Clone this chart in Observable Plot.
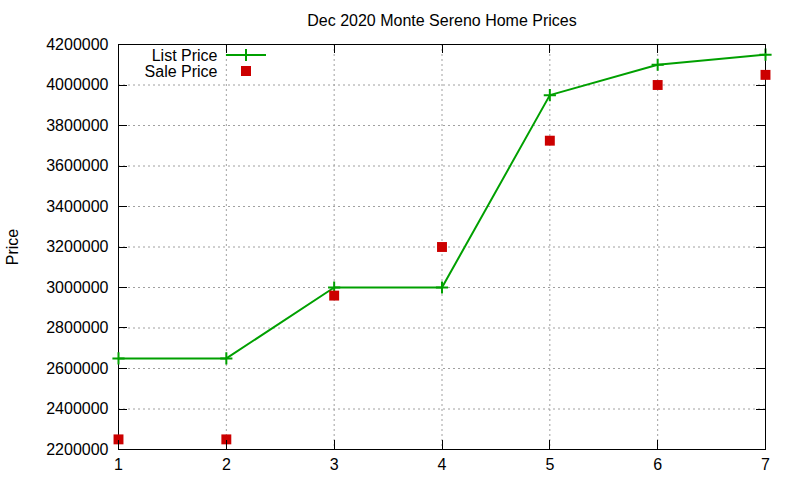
<!DOCTYPE html>
<html>
<head>
<meta charset="utf-8">
<script src="https://cdn.jsdelivr.net/npm/d3@7"></script>
<script src="https://cdn.jsdelivr.net/npm/@observablehq/plot@0.6"></script>
<style>
  html, body { margin: 0; padding: 0; background: #fff; }
  svg { display: block; }
</style>
</head>
<body>
<div id="chart"></div>
<script>
const title = "Dec 2020 Monte Sereno Home Prices";
const yLabel = "Price";
const months = [1, 2, 3, 4, 5, 6, 7];
const listPrice = [2650000, 2650000, 3000000, 3000000, 3950000, 4100000, 4150000];
const salePrice = [2250000, 2250000, 2960000, 3200000, 3725000, 4000000, 4050000];
const yTicks = [2200000, 2400000, 2600000, 2800000, 3000000, 3200000, 3400000, 3600000, 3800000, 4000000, 4200000];
const xTicks = [1, 2, 3, 4, 5, 6, 7];
const seriesNames = ["List Price", "Sale Price"];

const listData = months.map((m, i) => ({x: m, y: listPrice[i]}));
const saleData = months.map((m, i) => ({x: m, y: salePrice[i]}));

const green = "#00a000";
const red = "#cc0000";
const gridStyle = {stroke: "#a0a0a0", strokeOpacity: 1, strokeDasharray: "2,3", strokeWidth: 1};

const plot = Plot.plot({
  width: 800,
  height: 480,
  marginLeft: 118,
  marginRight: 35,
  marginTop: 44,
  marginBottom: 31,
  style: {fontFamily: "'Liberation Sans', Arial, sans-serif", fontSize: "16px", color: "#000", background: "#fff"},
  x: {domain: [1, 7]},
  y: {domain: [2200000, 4200000]},
  marks: [
    Plot.gridX(xTicks, gridStyle),
    Plot.gridY(yTicks, gridStyle),
    Plot.axisY({anchor: "left", ticks: yTicks, tickSize: 0, tickPadding: 10, tickFormat: d3.format("d"), fontSize: 16,
      label: yLabel, labelAnchor: "center", labelArrow: "none", labelOffset: 112}),
    Plot.axisX({anchor: "bottom", ticks: xTicks, tickSize: 0, tickPadding: 9, tickFormat: d3.format("d"), fontSize: 16, label: null}),
    Plot.frame({stroke: "#000", strokeWidth: 1}),
    Plot.line(listData, {x: "x", y: "y", stroke: green, strokeWidth: 2}),
    Plot.dot(listData, {x: "x", y: "y", symbol: "plus", stroke: green, strokeWidth: 2, r: 4}),
    Plot.dot(saleData, {x: "x", y: "y", symbol: "square", fill: red, stroke: "none", r: 5.6}),
    Plot.text([title], {frameAnchor: "top", dy: -24, lineAnchor: "middle", fontSize: 16, fill: "#000"}),
    Plot.text([seriesNames[0]], {frameAnchor: "top-left", dx: 99, dy: 11, textAnchor: "end", lineAnchor: "middle", fontSize: 16, fill: "#000"}),
    Plot.text([seriesNames[1]], {frameAnchor: "top-left", dx: 99, dy: 27, textAnchor: "end", lineAnchor: "middle", fontSize: 16, fill: "#000"})
  ]
});

const svg = d3.select(plot);
const xs = plot.scale("x"), ys = plot.scale("y");
const L = 118, R = 765, T = 44, B = 449, tk = 9;
// inward mirrored ticks
const tg = svg.append("g").attr("stroke", "#000").attr("stroke-width", 1);
yTicks.forEach(v => {
  const y = Math.round(ys.apply(v)) + 0.5;
  tg.append("line").attr("x1", L).attr("x2", L + tk).attr("y1", y).attr("y2", y);
  tg.append("line").attr("x1", R - tk).attr("x2", R).attr("y1", y).attr("y2", y);
});
xTicks.forEach(v => {
  const x = Math.round(xs.apply(v)) + 0.5;
  tg.append("line").attr("x1", x).attr("x2", x).attr("y1", B).attr("y2", B - tk);
  tg.append("line").attr("x1", x).attr("x2", x).attr("y1", T).attr("y2", T + tk);
});
// legend samples
const lg = svg.append("g");
lg.append("line").attr("x1", 226).attr("x2", 266).attr("y1", 55).attr("y2", 55)
  .attr("stroke", green).attr("stroke-width", 2);
lg.append("path").attr("d", d3.symbol(d3.symbolPlus, 4 * 4 * Math.PI)()).attr("transform", "translate(246,55)")
  .attr("fill", "none").attr("stroke", green).attr("stroke-width", 2);
lg.append("rect").attr("x", 241).attr("y", 66).attr("width", 10).attr("height", 10).attr("fill", red);

document.getElementById("chart").appendChild(plot);
</script>
</body>
</html>
